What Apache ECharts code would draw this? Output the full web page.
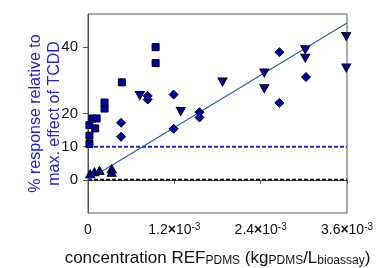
<!DOCTYPE html>
<html>
<head>
<meta charset="utf-8">
<script src="https://cdn.jsdelivr.net/npm/echarts@6/dist/echarts.min.js"></script>
<style>
  html, body { margin: 0; padding: 0; background: #fff; }
  #chart { width: 392px; height: 268px; }
</style>
</head>
<body>
<div id="chart"></div>
<script>
// measured points [concentration, % response]
const squares = [
  [0.00002, 10.8], [0.00002, 13.3], [0.00002, 16.5], [0.00010, 15.5],
  [0.00006, 18.5], [0.00012, 18.5], [0.00023, 21.5], [0.00023, 23.3],
  [0.00047, 29.4], [0.00094, 35.2], [0.00094, 40.0]
]
const diamonds = [
  [0.00046, 13.0], [0.00046, 17.2], [0.00083, 24.2], [0.00083, 25.3],
  [0.00119, 15.4], [0.00119, 25.7], [0.00155, 18.8], [0.00155, 20.4],
  [0.00266, 23.2], [0.00266, 38.5], [0.00303, 31.0]
]
const downTriangles = [
  [0.00072, 25.4], [0.00129, 20.6], [0.00187, 29.5], [0.00245, 32.2],
  [0.00245, 27.5], [0.00302, 39.2], [0.00302, 36.7], [0.00359, 43.2],
  [0.00359, 33.7]
]
const upTriangles = [
  [0.00003, 1.8], [0.00009, 2.4], [0.00016, 2.8], [0.00033, 3.3], [0.00033, 2.3]
]
const fitLine = [[0, 0], [0.0036, 47.3]]
const tenPercent = [[0, 10], [0.0036, 10]]
const zeroLine = [[0, 0], [0.0036, 0]]
const yTicks = [0, 10, 20, 40]
const xTickLabels = { 0: '0', 0.0012: '1.2', 0.0024: '2.4', 0.0036: '3.6' }

const FONT = '"Liberation Sans", Arial, sans-serif'
const markFill = '#0000aa'

const chart = echarts.init(document.getElementById('chart'), null, { renderer: 'canvas' })

function scatter(data, symbol, size, rotate) {
  return {
    type: 'scatter',
    data: data,
    symbol: symbol,
    symbolSize: size,
    symbolRotate: rotate || 0,
    itemStyle: { color: markFill, borderColor: '#000', borderWidth: 1, opacity: 1 },
    z: 5
  }
}

function straight(data, color, width, dash) {
  return {
    type: 'line',
    data: data,
    symbol: 'none',
    silent: true,
    lineStyle: { color: color, width: width, type: dash || 'solid' },
    z: 3
  }
}

const option = {
  animation: false,
  grid: {
    left: 88, right: 45, top: 14, bottom: 55,
    outerBoundsMode: 'none',
    containLabel: false,
    show: true, borderColor: '#555', borderWidth: 1
  },
  xAxis: {
    type: 'value',
    min: 0, max: 0.0036, interval: 0.0012,
    splitLine: { show: false },
    axisLine: { lineStyle: { color: '#555', width: 1 } },
    axisTick: { length: 4, lineStyle: { color: '#555' } },
    axisLabel: {
      margin: 9,
      color: '#111',
      fontFamily: FONT,
      formatter: function (v) {
        const key = Math.round(v * 1e4) / 1e4
        const s = xTickLabels[key]
        if (s === '0') return '{a|0}'
        return '{a|' + s + '}{x|×}{a|10}{sup|-3}'
      },
      rich: {
        a: { fontSize: 14, fontFamily: FONT, color: '#111', lineHeight: 16 },
        x: { fontSize: 14, fontFamily: FONT, color: '#111', fontWeight: 'bold', lineHeight: 16 },
        sup: { fontSize: 10, fontFamily: FONT, color: '#111', verticalAlign: 'top', lineHeight: 10 }
      }
    },
    name: 'concentration REF{s|PDMS} (kg{s|PDMS}/L{s|bioassay})',
    nameLocation: 'middle',
    nameGap: 37,
    nameMoveOverlap: false,
    nameTextStyle: {
      fontSize: 17, fontFamily: FONT, color: '#111',
      rich: {
        s: { fontSize: 12, fontFamily: FONT, color: '#111', verticalAlign: 'bottom', lineHeight: 12 }
      }
    }
  },
  yAxis: {
    type: 'value',
    min: -10, max: 50, interval: 10,
    splitLine: { show: false },
    axisLine: { lineStyle: { color: '#555', width: 1 } },
    axisTick: { length: 5, lineStyle: { color: '#555' }, customValues: yTicks },
    axisLabel: {
      margin: 10, fontSize: 15, fontFamily: FONT, color: '#111',
      customValues: yTicks
    },
    name: '% response relative to\nmax. effect of TCDD',
    nameLocation: 'middle',
    nameGap: 24,
    nameMoveOverlap: false,
    nameTextStyle: { fontSize: 16, fontFamily: FONT, color: '#2323c8', lineHeight: 19 }
  },
  series: [
    straight(zeroLine, '#111', 2, [4, 2]),
    straight(tenPercent, '#2323c8', 2, [4, 2]),
    straight(fitLine, '#2466ae', 1.2),
    scatter(squares, 'rect', 7),
    scatter(diamonds, 'diamond', 9),
    scatter(downTriangles, 'triangle', [9, 8], 180),
    scatter(upTriangles, 'triangle', [9, 8])
  ]
}

chart.setOption(option)
</script>
</body>
</html>
